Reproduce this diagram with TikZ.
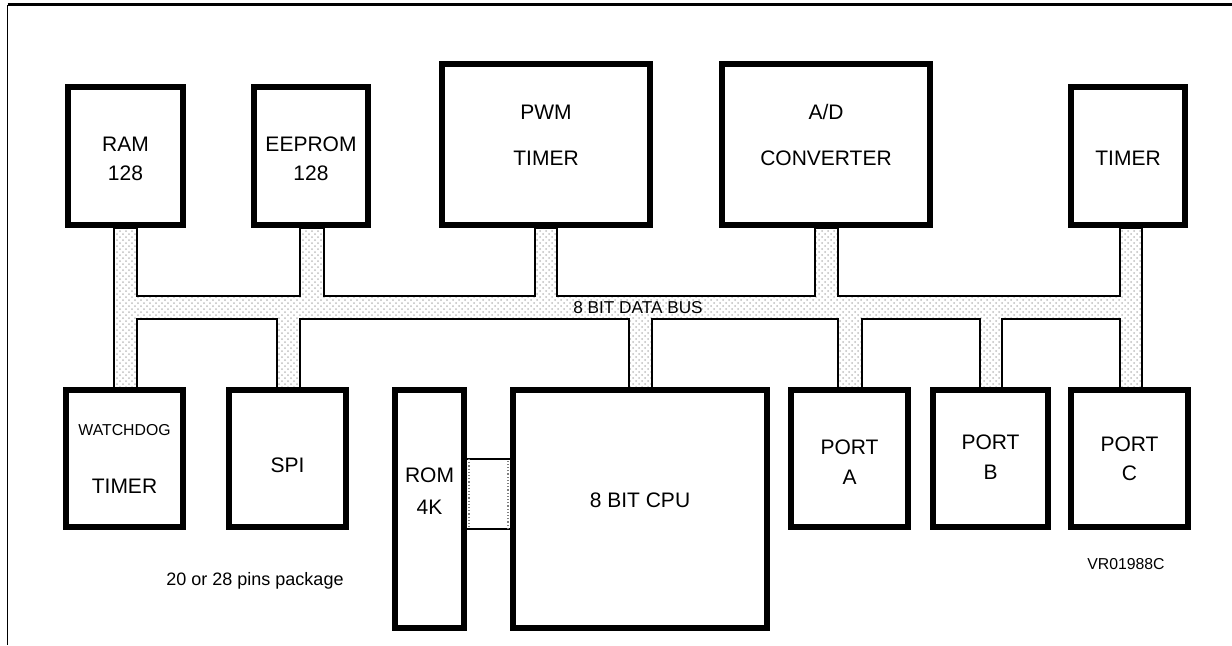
\documentclass[tikz,border=0pt]{standalone}
\usepackage{fontspec}
\setmainfont{Liberation Sans}
\usetikzlibrary{patterns}

\begin{document}
\begin{tikzpicture}[x=0.5pt, y=-0.5pt,
    blk/.style={draw, line width=2.8pt, fill=white, inner sep=0pt},
    lbl/.style={align=center, font=\fontsize{10.5}{14.5}\selectfont},
    bus/.style={line width=0.6pt, pattern=crosshatch dots, pattern color=gray!50}]
    \useasboundingbox (0,0) rectangle (1232,645);

    % Frame
    \draw[line width=1.1pt] (7.5,4.5) -- (1232,4.5);
    \draw[line width=0.75pt] (7.5,4.5) -- (7.5,645);

    % Data bus
    \draw[bus] (114,228) -- (114,388) -- (137,388) -- (137,319) -- (277,319)
        -- (277,388) -- (300,388) -- (300,319) -- (629,319) -- (629,388)
        -- (652,388) -- (652,319) -- (838,319) -- (838,388) -- (862,388)
        -- (862,319) -- (980,319) -- (980,388) -- (1002,388) -- (1002,319)
        -- (1120,319) -- (1120,388) -- (1142,388) -- (1142,228) -- (1120,228)
        -- (1120,296) -- (838,296) -- (838,228) -- (815,228) -- (815,296)
        -- (557,296) -- (557,228) -- (535,228) -- (535,296) -- (324,296)
        -- (324,228) -- (300,228) -- (300,296) -- (137,296) -- (137,228) -- cycle;
    \node[font=\fontsize{8.6}{10}\selectfont] (buslbl) at (638,308) {8 BIT DATA BUS};

    % Top row
    \node[blk, minimum width=57.7pt, minimum height=69.2pt] (ram) at (125.5,156) {};
    \node[blk, minimum width=57.2pt, minimum height=69.2pt] (eeprom) at (311,156) {};
    \node[blk, minimum width=104.2pt, minimum height=80.7pt] (pwm) at (546,144.5) {};
    \node[blk, minimum width=104.2pt, minimum height=80.7pt] (adc) at (826,144.5) {};
    \node[blk, minimum width=57.2pt, minimum height=69.2pt] (tmr) at (1128,156) {};

    % Bottom row
    \node[blk, minimum width=58.7pt, minimum height=68.7pt] (wdg) at (124.5,458.5) {};
    \node[blk, minimum width=58.7pt, minimum height=68.7pt] (spi) at (287.5,458.5) {};
    \node[blk, minimum width=34.7pt, minimum height=119.2pt] (rom) at (429.5,509) {};
    \node[blk, minimum width=127.2pt, minimum height=119.2pt] (cpu) at (640,509) {};
    \node[blk, minimum width=58.7pt, minimum height=68.7pt] (porta) at (849.5,458.5) {};
    \node[blk, minimum width=57.7pt, minimum height=68.7pt] (portb) at (990.5,458.5) {};
    \node[blk, minimum width=58.7pt, minimum height=68.7pt] (portc) at (1129.5,458.5) {};

    % ROM to CPU
    \path (rom.east |- 0,459) coordinate (lnka) (cpu.west |- 0,529) coordinate (lnkb);
    \draw[line width=0.6pt, fill=white] (lnka) -- (lnka -| lnkb) (lnkb) -- (lnkb -| lnka);
    \draw[line width=0.6pt, densely dotted, gray] ([xshift=1pt]lnka) -- ([xshift=1pt]lnka |- lnkb)
        ([xshift=-1pt]lnkb) -- ([xshift=-1pt]lnkb |- lnka);

    % Labels
    \node[lbl] (ramtxt) at (125.5,158.5) {RAM\\128};
    \node[lbl] (eeptxt) at (311,158.5) {EEPROM\\128};
    \node[lbl] (pwmtxt) at (546,135) {PWM\\[8.5pt]TIMER};
    \node[lbl] (adctxt) at (826,135) {A/D\\[8.5pt]CONVERTER};
    \node[lbl] (tmrtxt) at (1128,158) {TIMER};
    \node[lbl, font=\fontsize{7.9}{9}\selectfont] (wdgtxt) at (124.5,430) {WATCHDOG};
    \node[lbl] (wdgtmr) at (124.5,486) {TIMER};
    \node[lbl] (spitxt) at (287.5,465) {SPI};
    \node[lbl] (romtxt) at (429.5,491) {ROM\\[1.5pt]4K};
    \node[lbl] (cputxt) at (640,500) {8 BIT CPU};
    \node[lbl] (portatxt) at (849.5,462) {PORT\\[0.5pt]A};
    \node[lbl] (portbtxt) at (990.5,457) {PORT\\[0.5pt]B};
    \node[lbl] (portctxt) at (1129.5,458.5) {PORT\\C};

    % Notes
    \node[font=\fontsize{9}{11}\selectfont] (pkg) at (255,581) {20 or 28 pins package};
    \node[font=\fontsize{7.9}{9}\selectfont] (ref) at (1126,564) {VR01988C};
\end{tikzpicture}
\end{document}
